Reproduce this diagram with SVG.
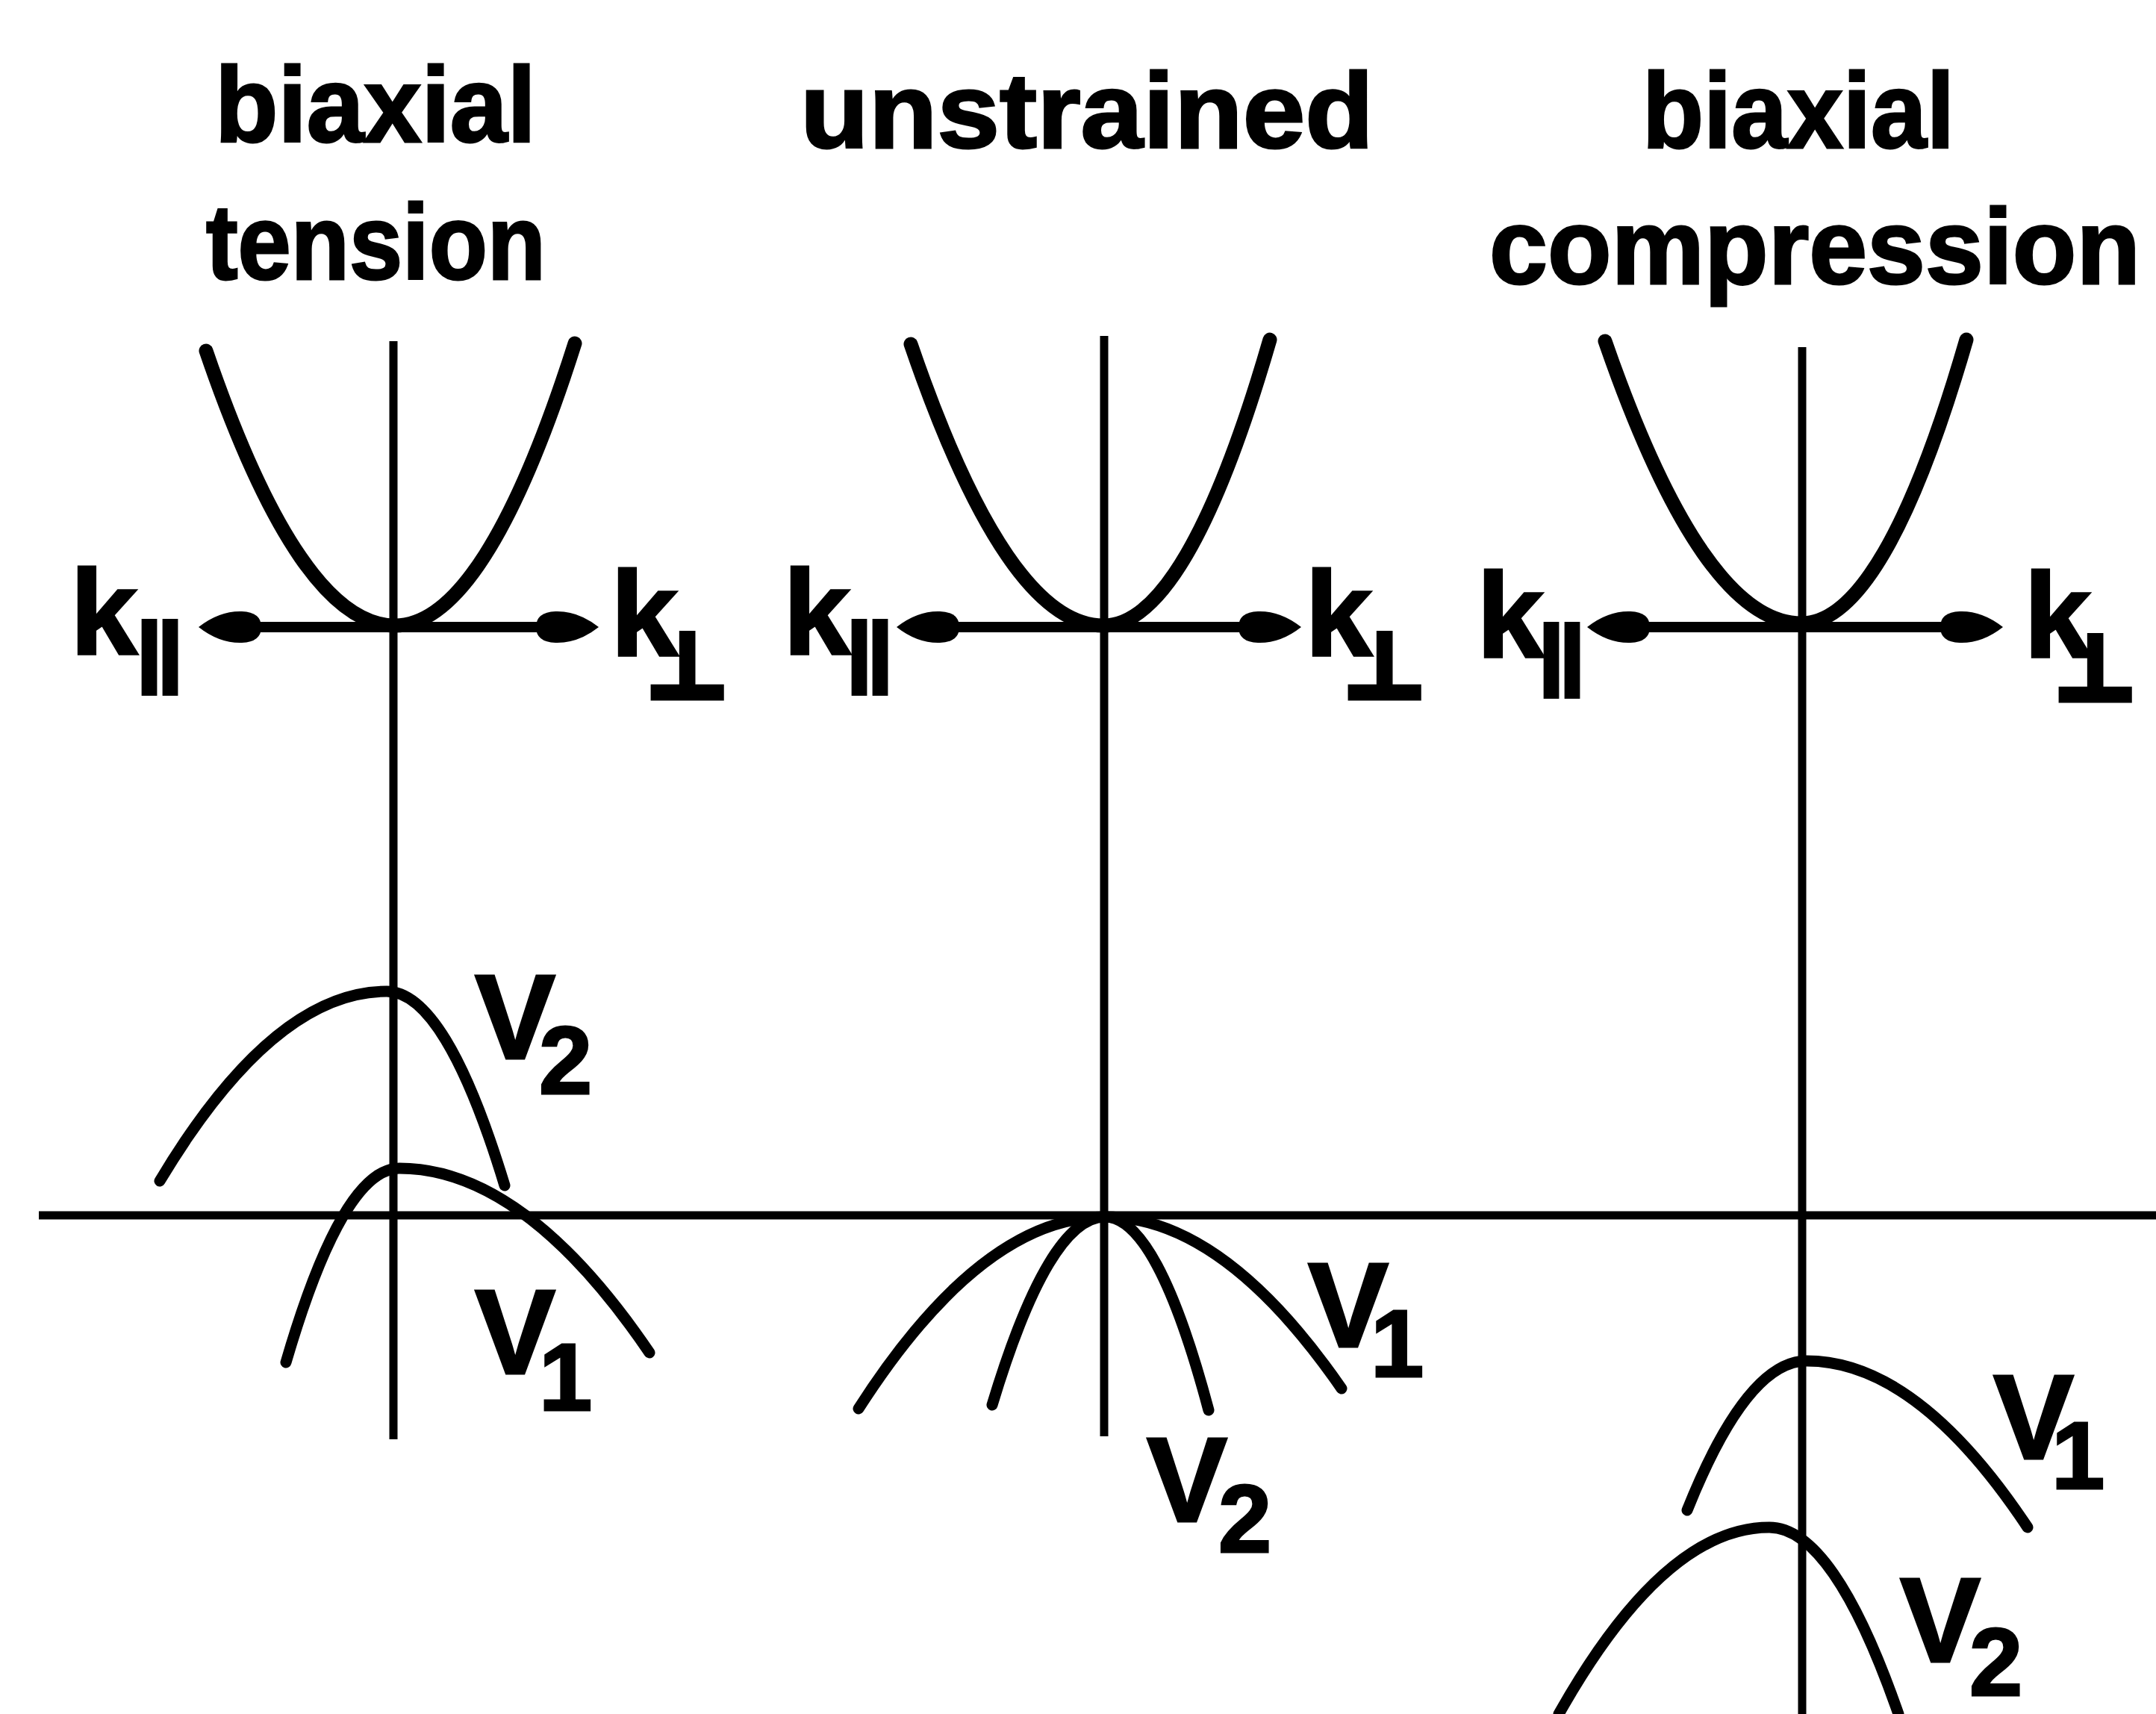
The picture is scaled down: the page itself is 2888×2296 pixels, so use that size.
<svg xmlns="http://www.w3.org/2000/svg" width="2888" height="2296" viewBox="0 0 2888 2296">
<style>
.t{font-family:"Liberation Sans",Arial,sans-serif;font-weight:bold;fill:#000}
.title{font-size:142px;stroke:#000;stroke-width:3}
.lab{font-size:162px;stroke:#000;stroke-width:3}
.sub{font-size:128px;stroke:#000;stroke-width:3}
.par{font-size:100px;stroke:#000;stroke-width:8}
.perp{font-family:"DejaVu Sans",sans-serif;font-weight:bold;font-size:120px;fill:#000;stroke:#000;stroke-width:9}
.ax{stroke:#000;stroke-width:11;fill:none}
.cb{stroke:#000;stroke-width:19;fill:none;stroke-linecap:round}
.vb{stroke:#000;stroke-width:15;fill:none;stroke-linecap:round}
.kax{stroke:#000;stroke-width:14;fill:none;marker-start:url(#ah);marker-end:url(#ah)}
</style>
<defs>
<marker id="ah" viewBox="0 0 84 44" refX="40" refY="22" markerWidth="84" markerHeight="44" markerUnits="userSpaceOnUse" orient="auto-start-reverse" overflow="visible">
<path d="M84,22 Q56,0 26,1 Q0,2 0,22 Q0,42 26,43 Q56,44 84,22 Z" fill="#000"/>
</marker>
</defs>
<rect width="2888" height="2296" fill="#fff"/>

<g id="titles">
<text class="t title" x="288" y="190" textLength="430" lengthAdjust="spacingAndGlyphs">biaxial</text>
<text class="t title" x="276" y="374" textLength="455" lengthAdjust="spacingAndGlyphs">tension</text>
<text class="t title" x="1072" y="198" textLength="768" lengthAdjust="spacingAndGlyphs">unstrained</text>
<text class="t title" x="2200" y="198" textLength="418" lengthAdjust="spacingAndGlyphs">biaxial</text>
<text class="t title" x="1995" y="380" textLength="872" lengthAdjust="spacingAndGlyphs">compression</text>
</g>

<g id="axes">
<line class="ax" x1="52" y1="1628" x2="2888" y2="1628"/>
<line class="ax" x1="527" y1="457" x2="527" y2="1928"/>
<line class="ax" x1="1479" y1="450" x2="1479" y2="1924"/>
<line class="ax" x1="2414" y1="465" x2="2414" y2="2296"/>
</g>

<g id="connectors">
<line class="kax" x1="310" y1="840" x2="758" y2="840"/>
<line class="kax" x1="1245" y1="840" x2="1699" y2="840"/>
<line class="kax" x1="2170" y1="840" x2="2639" y2="840"/>
</g>

<g id="tension">
<path class="cb" d="M276,470 Q402,838 529,838 Q650,838 770,460"/>
<path class="vb" d="M214,1582 Q366,1328 518,1328 Q597,1328 676,1588"/>
<path class="vb" d="M383,1825 Q459,1565 535,1565 Q702,1565 870,1812"/>
<text class="t lab" x="94" y="876">k</text><text class="t par" x="186" y="906">||</text>
<text class="t lab" x="818" y="878">k</text><text class="perp" x="866" y="934">⊥</text>
<text class="t lab" x="636" y="1418">V</text><text class="t sub" x="722" y="1465">2</text>
<text class="t lab" x="636" y="1840">V</text><text class="t sub" x="722" y="1889">1</text>
</g>

<g id="unstrained">
<path class="cb" d="M1220,461 Q1349,838 1478,838 Q1590,838 1701,455"/>
<path class="vb" d="M1150,1887 Q1315,1630 1480,1630 Q1550,1630 1619,1889"/>
<path class="vb" d="M1329,1882 Q1405,1630 1480,1630 Q1638,1630 1797,1860"/>
<text class="t lab" x="1049" y="876">k</text><text class="t par" x="1137" y="906">||</text>
<text class="t lab" x="1748" y="878">k</text><text class="perp" x="1800" y="934">⊥</text>
<text class="t lab" x="1752" y="1804">V</text><text class="t sub" x="1836" y="1844">1</text>
<text class="t lab" x="1536" y="2038">V</text><text class="t sub" x="1632" y="2079">2</text>
</g>

<g id="compression">
<path class="cb" d="M2150,457 Q2281,835 2413,835 Q2524,835 2634,455"/>
<path class="vb" d="M2260,2023 Q2340,1823 2420,1823 Q2568,1823 2716,2046"/>
<path class="vb" d="M2088,2296 Q2229,2046 2370,2046 Q2456,2046 2543,2296"/>
<text class="t lab" x="1978" y="880">k</text><text class="t par" x="2064" y="910">||</text>
<text class="t lab" x="2711" y="880">k</text><text class="perp" x="2752" y="937">⊥</text>
<text class="t lab" x="2670" y="1954">V</text><text class="t sub" x="2748" y="1994">1</text>
<text class="t lab" x="2545" y="2226">V</text><text class="t sub" x="2638" y="2271">2</text>
</g>
</svg>
